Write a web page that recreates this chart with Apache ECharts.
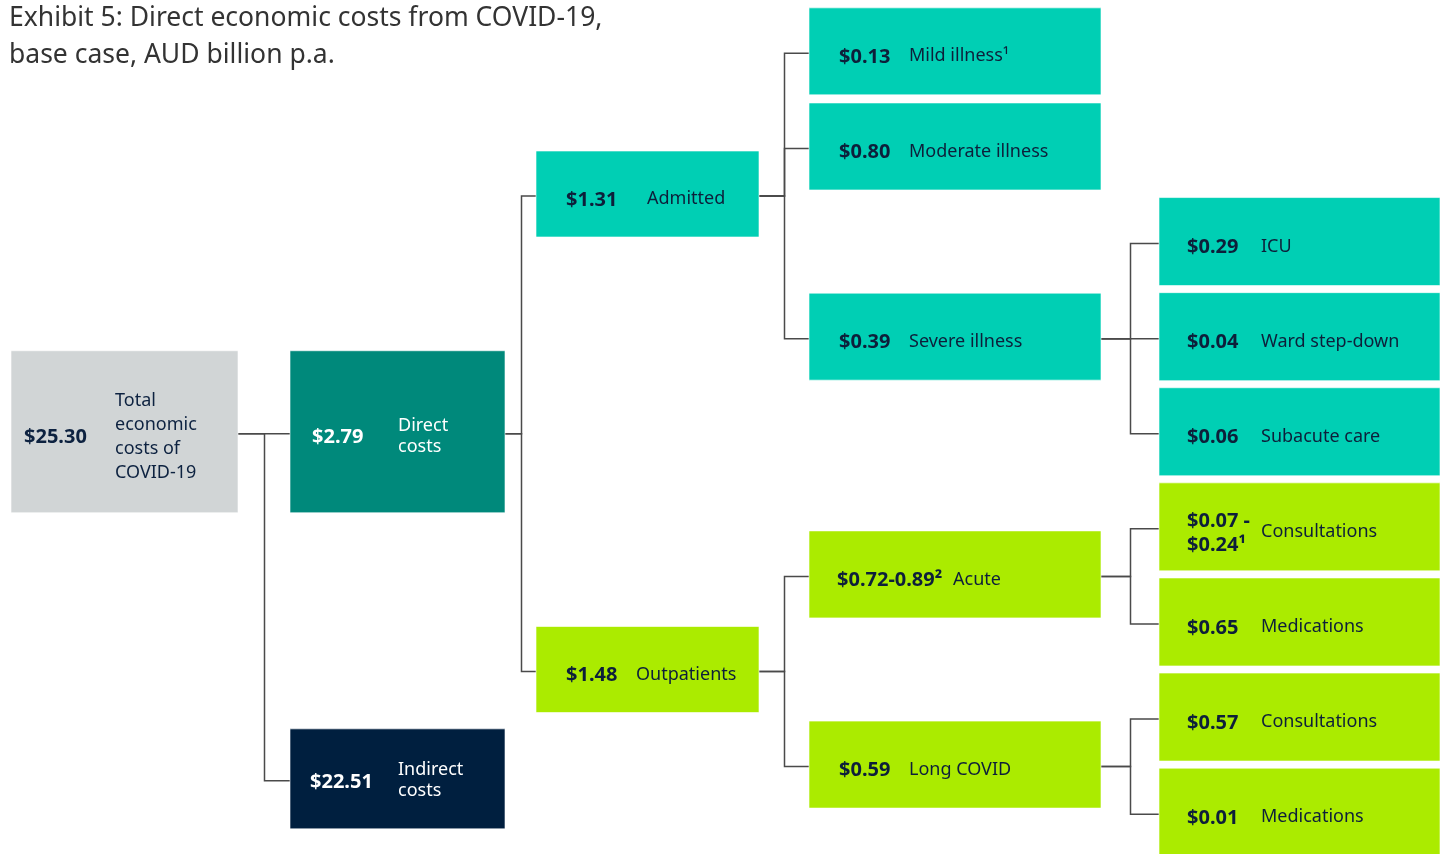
<!DOCTYPE html>
<html>
<head>
<meta charset="utf-8">
<script src="https://cdn.jsdelivr.net/npm/echarts@6/dist/echarts.min.js"></script>
<style>
  html, body { margin: 0; padding: 0; background: #ffffff; }
  #chart { width: 1446px; height: 854px; }
</style>
</head>
<body>
<div id="chart"></div>
<script>
// ---------------- DATA ----------------
const titleText = 'Exhibit 5: Direct economic costs from COVID-19,\nbase case, AUD billion p.a.';

const nodeValues = ['$25.30', '$2.79', '$22.51', '$1.31', '$1.48',
  '$0.13', '$0.80', '$0.39', '$0.72-0.89²', '$0.59',
  '$0.29', '$0.04', '$0.06', '$0.07 -\n$0.24¹', '$0.65', '$0.57', '$0.01'];

const nodeLabels = ['Total\neconomic\ncosts of\nCOVID-19', 'Direct\ncosts', 'Indirect\ncosts', 'Admitted', 'Outpatients',
  'Mild illness¹', 'Moderate illness', 'Severe illness', 'Acute', 'Long COVID',
  'ICU', 'Ward step-down', 'Subacute care', 'Consultations', 'Medications', 'Consultations', 'Medications'];

const nodeParents = [-1, 0, 0, 1, 1,
  3, 3, 3, 4, 4,
  7, 7, 7, 8, 8, 9, 9];

const nodeGroups = ['total', 'direct', 'indirect', 'admitted', 'outpatients',
  'admitted', 'admitted', 'admitted', 'outpatients', 'outpatients',
  'admitted', 'admitted', 'admitted', 'outpatients', 'outpatients', 'outpatients', 'outpatients'];

// ---------------- STYLE / LAYOUT (kept apart from data) ----------------
const groupFill = { total: '#D1D5D6', direct: '#00897B', indirect: '#001F3F', admitted: '#00CFB4', outpatients: '#ABEB00' };
const groupText = { total: '#0D2240', direct: '#FFFFFF', indirect: '#FFFFFF', admitted: '#0D1F3A', outpatients: '#0D1F3A' };
const colLeft = [11, 290, 536, 809, 1159];
const colRight = [238, 505, 759, 1101, 1440];
const colBoxH = [162, 162, 86, 87, 88];
const colValueDx = [13, 22, 30, 30, 28];
const colLabelDx = [104, 108, 111, 100, 102];
const nodeStyleOverride = {
  2: { h: 100, valueDx: 20, rowOverride: 7.65, textDy: -3 },
  4: { labelDx: 100 },
  8: { valueDx: 28, labelDx: 144 }
};
const FONT = '"Noto Sans", "Open Sans", sans-serif';

// tree layout: leaves on successive rows, parents centred on first/last child, root aligned with first child
const childrenOf = nodeValues.map((_, i) => nodeParents.map((p, j) => p === i ? j : -1).filter(j => j >= 0));
const depth = nodeParents.map((p, i) => { let d = 0, k = i; while (nodeParents[k] >= 0) { k = nodeParents[k]; d++; } return d; });
const rowOf = new Array(nodeValues.length);
let nextLeaf = 0;
function place(i) {
  const ov = nodeStyleOverride[i] || {};
  const ch = childrenOf[i];
  ch.forEach(place);
  if (ov.rowOverride !== undefined) { rowOf[i] = ov.rowOverride; return; }
  const placed = ch.filter(c => !(nodeStyleOverride[c] && nodeStyleOverride[c].rowOverride !== undefined));
  if (placed.length === 0) { rowOf[i] = nextLeaf++; return; }
  const first = rowOf[placed[0]], last = rowOf[placed[placed.length - 1]];
  rowOf[i] = nodeParents[i] < 0 ? first : (first + last) / 2;
}
place(0);

function geom(i, api) {
  const d = depth[i];
  const ov = nodeStyleOverride[i] || {};
  const a = api.coord([colLeft[d], rowOf[i]]);
  const b = api.coord([colRight[d], rowOf[i]]);
  return { x0: a[0], x1: b[0], yc: a[1], h: ov.h || colBoxH[d], d: d, ov: ov };
}

function renderNode(params, api) {
  const i = api.value(0);
  const g = geom(i, api);
  const grp = nodeGroups[i];
  const tc = groupText[grp];
  const vdx = g.ov.valueDx !== undefined ? g.ov.valueDx : colValueDx[g.d];
  const ldx = g.ov.labelDx !== undefined ? g.ov.labelDx : colLabelDx[g.d];
  const dy = g.ov.textDy || 0;
  const lh = g.d <= 1 ? (g.d === 0 ? 24 : 21) : 24;
  return {
    type: 'group',
    children: [
      { type: 'rect', shape: { x: g.x0, y: g.yc - g.h / 2, width: g.x1 - g.x0, height: g.h },
        style: { fill: groupFill[grp], stroke: 'rgba(255,255,255,0.6)', lineWidth: 1 } },
      { type: 'text', style: { x: g.x0 + vdx, y: g.yc + 6 + dy, text: nodeValues[i], fill: tc,
        fontFamily: FONT, fontSize: 20, fontWeight: 'bold', align: 'left', verticalAlign: 'middle', lineHeight: 24 } },
      { type: 'text', style: { x: g.x0 + ldx, y: g.yc + 5 + dy, text: nodeLabels[i], fill: tc,
        fontFamily: FONT, fontSize: 18, fontWeight: 'normal', align: 'left', verticalAlign: 'middle', lineHeight: lh } }
    ]
  };
}

function renderEdge(params, api) {
  const c = api.value(0);
  const p = nodeParents[c];
  const gp = geom(p, api), gc = geom(c, api);
  const bus = Math.round((gp.x1 + gc.x0) / 2) + 0.5;
  return {
    type: 'polyline',
    shape: { points: [[gp.x1, gp.yc + 2], [bus, gp.yc + 2], [bus, gc.yc + 2], [gc.x0, gc.yc + 2]] },
    style: { stroke: '#4A4A4A', lineWidth: 1.5, fill: null }
  };
}

const edgeData = nodeParents.map((p, i) => [i]).filter(e => nodeParents[e[0]] >= 0);
const nodeData = nodeValues.map((_, i) => [i]);

const chart = echarts.init(document.getElementById('chart'), null, { renderer: 'canvas' });
chart.setOption({
  animation: false,
  title: {
    text: titleText, left: 9, top: 0, padding: 0,
    textStyle: { fontFamily: FONT, fontSize: 26.5, fontWeight: 'normal', color: '#333333', lineHeight: 37 }
  },
  grid: { left: 0, right: 0, top: 0, bottom: 0 },
  xAxis: { type: 'value', min: 0, max: 1446, show: false },
  yAxis: { type: 'value', min: -0.54, max: 8.44, inverse: true, show: false },
  series: [
    { type: 'custom', renderItem: renderEdge, data: edgeData, z: 1, silent: true, clip: false, encode: { x: -1, y: -1 } },
    { type: 'custom', renderItem: renderNode, data: nodeData, z: 2, silent: true, clip: false, encode: { x: -1, y: -1 } }
  ]
});
</script>
</body>
</html>
